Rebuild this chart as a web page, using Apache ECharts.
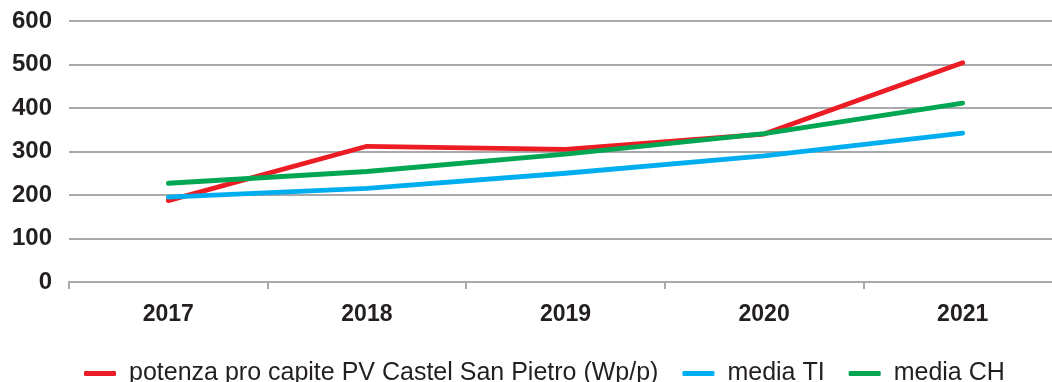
<!DOCTYPE html>
<html>
<head>
<meta charset="utf-8">
<script src="https://cdn.jsdelivr.net/npm/echarts@6/dist/echarts.min.js"></script>
<style>
  html, body { margin: 0; padding: 0; background: #fff; overflow: hidden; }
  /* the last category band runs slightly past the visible right edge */
  #chart { width: 1062px; height: 382px; }
</style>
</head>
<body>
<div id="chart"></div>
<script>
// Years on the category axis
const years = ['2017', '2018', '2019', '2020', '2021'];

// Per-capita PV power, Wp per person
const potenzaCSP = [187, 312, 305, 340, 504];
const mediaTI = [195, 215, 250, 290, 342];
const mediaCH = [227, 254, 294, 341, 411];

const seriesNames = [
  'potenza pro capite PV Castel San Pietro (Wp/p)',
  'media TI',
  'media CH'
];
const seriesColors = ['#ec1c24', '#00aeef', '#00a651'];

const gridGray = '#a7a9ac';
const textDark = '#231f20';
const fontFam = '"Liberation Sans", Arial, sans-serif';

const chart = echarts.init(document.getElementById('chart'), null, { renderer: 'canvas' });

function lineSeries(name, data, color) {
  return {
    name: name,
    type: 'line',
    data: data,
    symbol: 'none',
    smooth: false,
    lineStyle: { color: color, width: 4.8, cap: 'round', join: 'round' },
    itemStyle: { color: color }
  };
}

chart.setOption({
  animation: false,
  backgroundColor: '#ffffff',
  grid: { left: 69, right: 0, top: 21, height: 261, containLabel: false },
  xAxis: {
    type: 'category',
    data: years,
    boundaryGap: true,
    axisLine: { show: true, lineStyle: { color: gridGray, width: 2 } },
    axisTick: { show: true, length: 7, lineStyle: { color: gridGray, width: 2 } },
    axisLabel: {
      color: textDark, fontFamily: fontFam, fontWeight: 'bold', fontSize: 23, margin: 21
    },
    splitLine: { show: false }
  },
  yAxis: {
    type: 'value',
    min: 0,
    max: 600,
    interval: 100,
    axisLine: { show: false },
    axisTick: { show: false },
    axisLabel: {
      color: textDark, fontFamily: fontFam, fontWeight: 'bold', fontSize: 24, margin: 17
    },
    splitLine: { show: true, lineStyle: { color: gridGray, width: 2 } }
  },
  legend: {
    data: seriesNames,
    left: 79,
    top: 356,
    itemWidth: 32,
    itemHeight: 5,
    itemGap: 24,
    icon: 'roundRect',
    textStyle: {
      color: textDark, fontFamily: fontFam, fontSize: 25, padding: [0, 0, 0, 8]
    }
  },
  series: [
    lineSeries(seriesNames[0], potenzaCSP, seriesColors[0]),
    lineSeries(seriesNames[1], mediaTI, seriesColors[1]),
    lineSeries(seriesNames[2], mediaCH, seriesColors[2])
  ]
});
</script>
</body>
</html>
